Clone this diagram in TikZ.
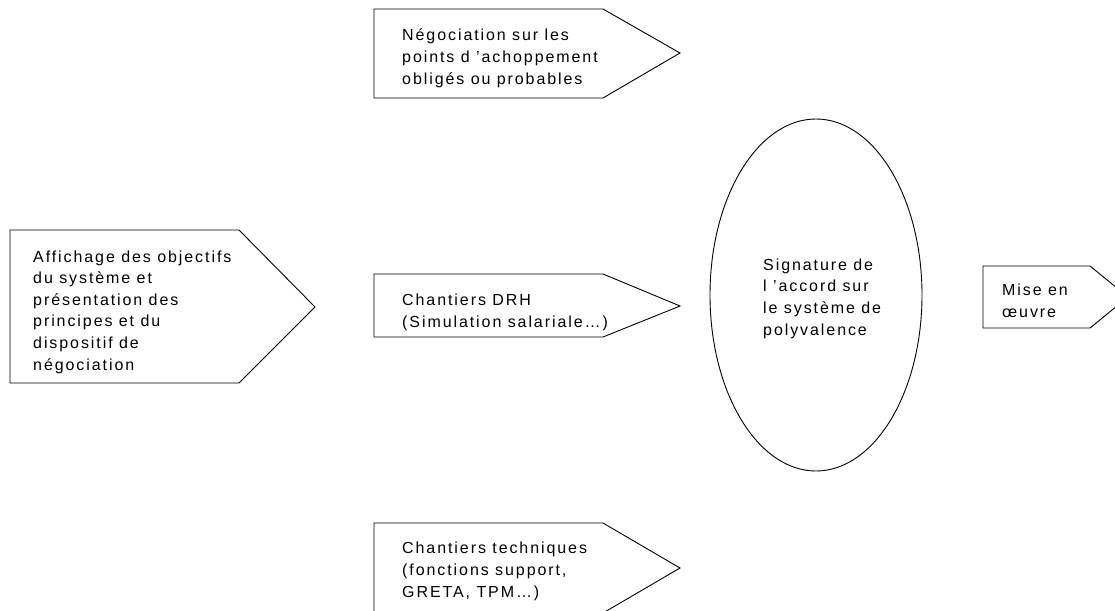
\documentclass[tikz,border=0pt]{standalone}
\usepackage{fontspec}
\setmainfont{Liberation Sans}[LetterSpace=12]
\begin{document}
\begin{tikzpicture}[x=1pt,y=-1pt,
  shp/.style={draw=black, line width=0.9pt, line join=miter},
  lbl/.style={anchor=base west, inner sep=0pt, align=left,
    font=\fontsize{16}{21.6}\selectfont}]
\useasboundingbox (0,0) rectangle (1115,610);
\clip (0,0) rectangle (1115,610);
% shapes
\draw[shp] (10,230) -- (239,230) -- (315,307) -- (239,383) -- (10,383) -- cycle;
\draw[shp] (374,9) -- (603,9) -- (680,53) -- (603,98) -- (374,98) -- cycle;
\draw[shp] (374,274) -- (603,274) -- (680,306) -- (603,337) -- (374,337) -- cycle;
\draw[shp] (374,523) -- (603,523) -- (680,568) -- (603,613) -- (374,613) -- cycle;
\draw[shp] (816,295) ellipse [x radius=106, y radius=176];
\draw[shp] (983,266) -- (1090,266) -- (1128,297) -- (1090,328) -- (983,328) -- cycle;
% texts (anchored at the baseline of their last line)
\node[lbl] (t1) at (33,370) {Affichage des objectifs\\du système et\\présentation des\\principes et du\\dispositif de\\négociation};
\node[lbl] (t2) at (402,84) {Négociation sur les\\points d ’achoppement\\obligés ou probables};
\node[lbl] (t3) at (402,327) {Chantiers DRH\\(Simulation salariale…)};
\node[lbl] (t4) at (402,597) {Chantiers techniques\\(fonctions support,\\GRETA, TPM…)};
\node[lbl] (t5) at (763,335) {Signature de\\l ’accord sur\\le système de\\polyvalence};
\node[lbl] (t6) at (1002,317) {Mise en\\œuvre};
\end{tikzpicture}
\end{document}
